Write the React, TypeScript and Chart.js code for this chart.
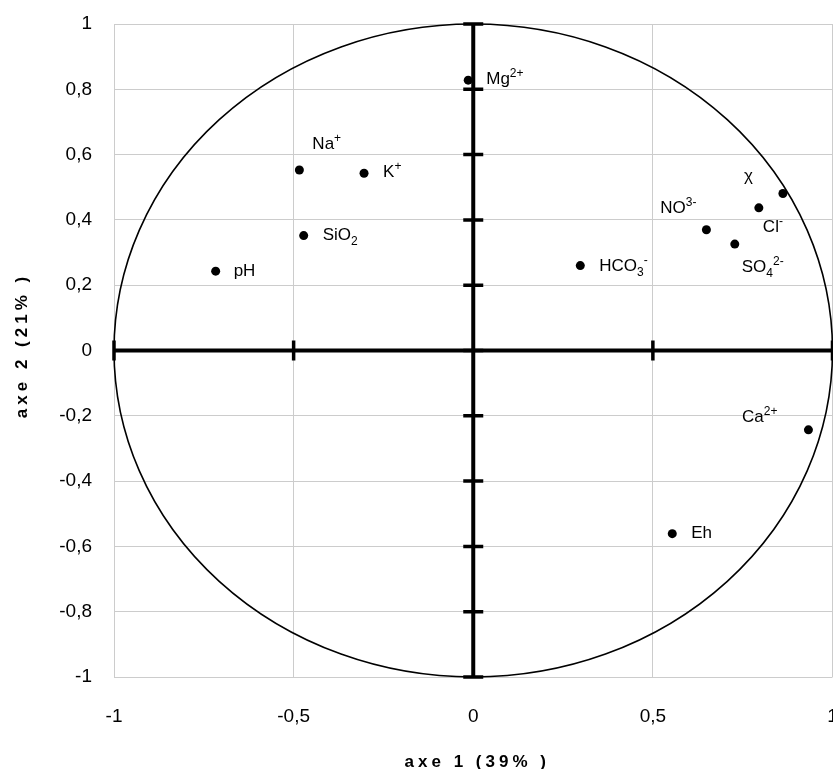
import { useEffect, useRef } from "react";
import { Chart, registerables } from "chart.js";

Chart.register(...registerables);

// ---- data ----
const variableLabels = ["Mg^{2+}", "Na^{+}", "K^{+}", "SiO_{2}", "pH", "HCO_{3}^{-}", "NO^{3-}", "SO_{4}^{2-}", "Cl^{-}", "χ", "Ca^{2+}", "Eh"];
const axis1Values = [-0.014, -0.484, -0.304, -0.472, -0.717, 0.298, 0.649, 0.728, 0.795, 0.862, 0.933, 0.554];
const axis2Values = [0.828, 0.553, 0.543, 0.352, 0.243, 0.26, 0.37, 0.326, 0.437, 0.481, -0.243, -0.561];
const xTitle = "axe 1 (39% )";
const yTitle = "axe 2 (21% )";

// ---- label placement (pixel offsets from the point: dx, dy to baseline, anchor side) ----
const labelPlacement: [number, number, "left" | "right"][] = [
  [18, 4, "left"],
  [13, -21, "left"],
  [19, 4, "left"],
  [19, 4.5, "left"],
  [18, 5, "left"],
  [19, 5, "left"],
  [-10, -17, "right"],
  [7, 28, "left"],
  [4, 24, "left"],
  [-30, -12, "right"],
  [-31, -8, "right"],
  [19, 4, "left"],
];

const FONT = '"Liberation Sans", Arial, sans-serif';

type Seg = { t: string; m: "" | "sup" | "sub" };
function parseLabel(s: string): Seg[] {
  const out: Seg[] = [];
  const re = /(\^\{[^}]*\}|_\{[^}]*\})/g;
  let last = 0;
  let m: RegExpExecArray | null;
  while ((m = re.exec(s))) {
    if (m.index > last) out.push({ t: s.slice(last, m.index), m: "" });
    const tok = m[0];
    out.push({ t: tok.slice(2, -1), m: tok[0] === "^" ? "sup" : "sub" });
    last = m.index + tok.length;
  }
  if (last < s.length) out.push({ t: s.slice(last), m: "" });
  return out;
}

const decorPlugin = {
  id: "decor",
  beforeDatasetsDraw(chart: any) {
    const { ctx, chartArea, scales } = chart;
    const xs = scales.x, ys = scales.y;
    const cx = xs.getPixelForValue(0), cy = ys.getPixelForValue(0);
    const rx = xs.getPixelForValue(1) - cx;
    const ry = cy - ys.getPixelForValue(1);
    ctx.save();
    // circle
    ctx.beginPath();
    ctx.ellipse(cx, cy, rx, ry, 0, 0, Math.PI * 2);
    ctx.strokeStyle = "#000";
    ctx.lineWidth = 1.6;
    ctx.stroke();
    // axes
    ctx.lineWidth = 4;
    ctx.beginPath();
    ctx.moveTo(cx, chartArea.top);
    ctx.lineTo(cx, chartArea.bottom);
    ctx.moveTo(chartArea.left, cy);
    ctx.lineTo(chartArea.right, cy);
    ctx.stroke();
    // tick marks
    ctx.lineWidth = 3.5;
    ctx.beginPath();
    ys.ticks.forEach((t: any) => {
      const y = ys.getPixelForValue(t.value);
      ctx.moveTo(cx - 10, y);
      ctx.lineTo(cx + 10, y);
    });
    xs.ticks.forEach((t: any) => {
      if (Math.abs(t.value) < 1e-9) return;
      const x = xs.getPixelForValue(t.value);
      ctx.moveTo(x, cy - 10);
      ctx.lineTo(x, cy + 10);
    });
    ctx.stroke();
    ctx.restore();
  },
  afterDatasetsDraw(chart: any) {
    const { ctx, scales } = chart;
    const xs = scales.x, ys = scales.y;
    ctx.save();
    ctx.fillStyle = "#000";
    ctx.textBaseline = "alphabetic";
    ctx.textAlign = "left";
    const big = `17px ${FONT}`;
    const small = `12px ${FONT}`;
    variableLabels.forEach((lab, i) => {
      const segs = parseLabel(lab);
      const px = xs.getPixelForValue(axis1Values[i]);
      const py = ys.getPixelForValue(axis2Values[i]);
      const [dx, dy, side] = labelPlacement[i];
      let total = 0;
      segs.forEach((s) => {
        ctx.font = s.m ? small : big;
        total += ctx.measureText(s.t).width;
      });
      let x = side === "left" ? px + dx : px + dx - total;
      const base = py + dy;
      segs.forEach((s) => {
        ctx.font = s.m ? small : big;
        const off = s.m === "sup" ? -7 : s.m === "sub" ? 5 : 0;
        ctx.fillText(s.t, x, base + off);
        x += ctx.measureText(s.t).width;
      });
    });
    ctx.restore();
  },
  afterDraw(chart: any) {
    const { ctx, chartArea } = chart;
    ctx.save();
    ctx.fillStyle = "#000";
    ctx.font = `bold 17px ${FONT}`;
    const sp = 4;
    (ctx as any).letterSpacing = `${sp}px`;
    ctx.textAlign = "left";
    ctx.textBaseline = "alphabetic";
    // x title
    const wx = ctx.measureText(xTitle).width - sp;
    const midX = (chartArea.left + chartArea.right) / 2 + 2;
    ctx.fillText(xTitle, midX - wx / 2, 767);
    // y title
    const wy = ctx.measureText(yTitle).width - sp;
    const midY = (chartArea.top + chartArea.bottom) / 2 - 3;
    ctx.translate(27, midY);
    ctx.rotate(-Math.PI / 2);
    ctx.fillText(yTitle, -wy / 2, 0);
    ctx.restore();
  },
};

const fmt = (v: number) => {
  const r = Math.round(v * 10) / 10;
  return String(r).replace(".", ",");
};

export default function App() {
  const ref = useRef<HTMLCanvasElement>(null);
  useEffect(() => {
    document.body.style.margin = "0";
    const canvas = ref.current!;
    const chart = new Chart(canvas, {
      type: "scatter",
      data: {
        datasets: [
          {
            data: axis1Values.map((x, i) => ({ x, y: axis2Values[i] })),
            backgroundColor: "#000",
            borderColor: "#000",
            borderWidth: 0,
            pointRadius: 4.5,
          },
        ],
      },
      options: {
        responsive: false,
        animation: false,
        devicePixelRatio: 1,
        layout: { padding: { top: 24, right: 1, left: 0, bottom: 0 } },
        plugins: { legend: { display: false }, tooltip: { enabled: false } },
        scales: {
          x: {
            type: "linear",
            min: -1,
            max: 1,
            border: { display: false },
            grid: { color: "#cccccc", lineWidth: 1, drawTicks: false },
            ticks: {
              stepSize: 0.5,
              padding: 28,
              color: "#000",
              font: { family: FONT, size: 19 },
              callback: (v: any) => fmt(Number(v)),
              maxRotation: 0,
            },
            afterFit(s: any) {
              s.height = 92;
              s.paddingLeft = 0;
              s.paddingRight = 0;
            },
          },
          y: {
            type: "linear",
            min: -1,
            max: 1,
            border: { display: false },
            grid: { color: "#cccccc", lineWidth: 1, drawTicks: false },
            ticks: {
              stepSize: 0.2,
              padding: 22,
              color: "#000",
              font: { family: FONT, size: 19 },
              callback: (v: any) => fmt(Number(v)),
            },
            afterFit(s: any) {
              s.width = 114;
              s.paddingTop = 0;
              s.paddingBottom = 0;
            },
          },
        },
      },
      plugins: [decorPlugin],
    });
    return () => chart.destroy();
  }, []);
  return (
    <div style={{ position: "absolute", left: 0, top: 0, width: 833, height: 769, overflow: "hidden", background: "#fff" }}>
      <canvas ref={ref} width={837} height={769} style={{ display: "block" }} />
    </div>
  );
}
